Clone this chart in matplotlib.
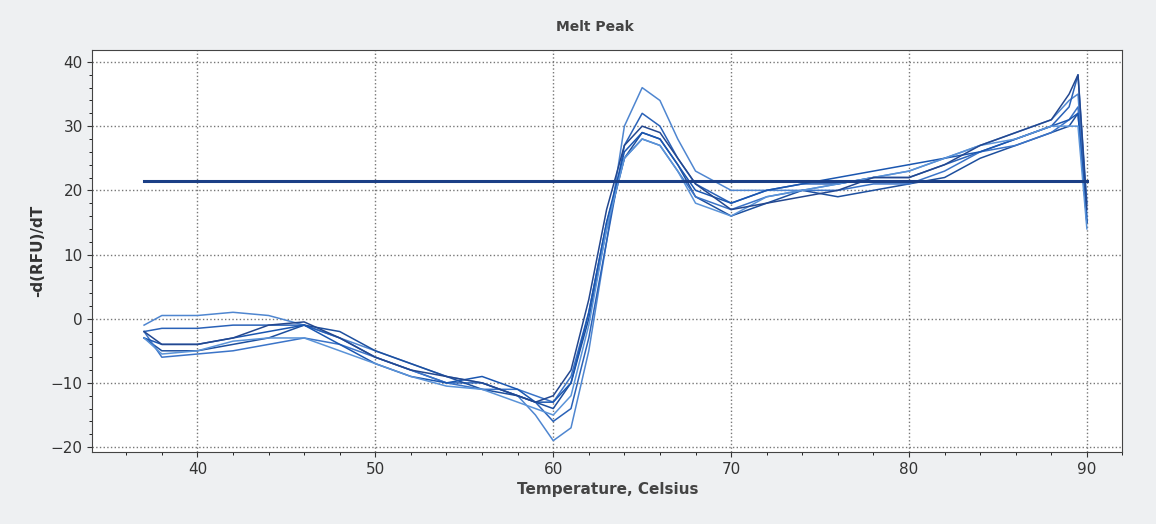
import matplotlib.pyplot as plt
from matplotlib.ticker import MultipleLocator

temps = [37, 38, 40, 42, 44, 46, 48, 50, 52, 54, 56, 58, 59, 60, 61, 62, 63, 64, 65, 66, 67, 68,
         70, 72, 74, 76, 78, 80, 82, 84, 86, 88, 89, 89.5, 90]

c1 = [-1, 0.5, 0.5, 1, 0.5, -1, -3, -5, -7, -9, -10, -12, -15, -19, -17, -5, 12, 30, 36, 34, 28, 23,
      20, 20, 20, 21, 22, 23, 25, 27, 29, 31, 34, 35, 15]
c2 = [-2, -1.5, -1.5, -1, -1, -1, -3, -6, -8, -10, -10, -12, -13, -16, -14, -3, 12, 27, 32, 30, 25, 21,
      18, 20, 21, 21, 22, 22, 24, 26, 28, 30, 33, 38, 18]
c3 = [-3, -5, -5, -4, -3, -1, -2, -5, -7, -9, -11, -12, -13, -14, -10, 0, 14, 25, 29, 28, 24, 19,
      16, 18, 20, 19, 20, 21, 22, 25, 27, 29, 30, 32, 15]
c4 = [-2, -6, -5.5, -5, -4, -3, -4, -6, -8, -10, -11, -11, -12, -13, -9, 1, 15, 25, 28, 27, 23, 19,
      17, 19, 20, 20, 21, 21, 23, 26, 27, 29, 31, 33, 16]
c5 = [-3, -4, -4, -3, -2, -1, -4, -7, -9, -10, -9, -11, -13, -13, -10, 1, 15, 26, 29, 28, 24, 20,
      18, 20, 21, 22, 23, 24, 25, 26, 28, 30, 31, 32, 15]
c6 = [-3, -5.5, -5, -3.5, -3, -3, -5, -7, -9, -10.5, -11, -13, -14, -15, -12, -1, 14, 25, 28, 27, 23, 18,
      16, 19, 20, 21, 22, 23, 25, 27, 28, 30, 30, 30, 14]
c7 = [-2, -4, -4, -3, -1, -0.5, -3, -6, -8, -9, -10, -12, -13, -12, -8, 3, 17, 27, 30, 29, 25, 21,
      17, 18, 19, 20, 22, 22, 24, 27, 29, 31, 35, 38, 17]
curves = [c1, c2, c3, c4, c5, c6, c7]
colors = ['#4f86d0', '#2a62b8', '#1d4f9e', '#3b74c8', '#1a56b0', '#5a93d8', '#23478f']

threshold = 21.5
thr_range = [37, 90]

fig = plt.figure(figsize=(11.56, 5.24), dpi=100)
fig.patch.set_facecolor('#eef0f2')
ax = fig.add_axes([0.08, 0.137, 0.891, 0.768])
ax.set_facecolor('white')

for c, col in zip(curves, colors):
    ax.plot(temps, c, color=col, lw=1.1)
ax.plot(thr_range, [threshold, threshold], color='#1b3f86', lw=2.2)

ax.set_xlim(34.1, 92)
ax.set_ylim(-20.8, 41.9)
ax.xaxis.set_major_locator(MultipleLocator(10))
ax.xaxis.set_minor_locator(MultipleLocator(2))
ax.yaxis.set_major_locator(MultipleLocator(10))
ax.yaxis.set_minor_locator(MultipleLocator(2))
ax.grid(True, which='major', linestyle=':', color='#777777', lw=1)
ax.tick_params(labelsize=11, colors='#333333')
for s in ax.spines.values():
    s.set_color('#444444')

ax.set_xlabel('Temperature, Celsius', fontsize=11, fontweight='bold', color='#444444')
ax.set_ylabel('-d(RFU)/dT', fontsize=11, fontweight='bold', color='#333333')
fig.text(0.515, 0.94, 'Melt Peak', ha='center', fontsize=10, fontweight='bold', color='#444444')

fig.savefig('out.png', dpi=100, facecolor=fig.get_facecolor())
